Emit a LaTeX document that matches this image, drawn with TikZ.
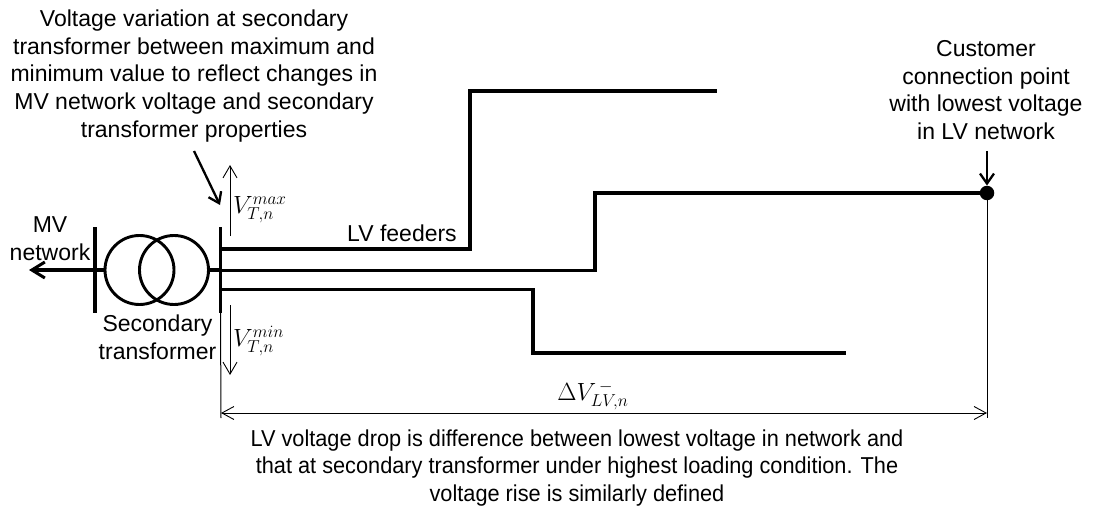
\documentclass[tikz,border=0pt]{standalone}
\usepackage{fontspec}
\setmainfont{Liberation Sans}
\newfontfamily\condensedfont[FakeStretch=0.945]{Liberation Sans}
\usetikzlibrary{arrows.meta}
\tikzset{
  x=1pt,y=-1pt,
  txt/.style={inner sep=0pt,align=center,font=\fontsize{23}{27.6}\selectfont},
  txtc/.style={inner sep=0pt,align=center,font=\condensedfont\fontsize{23}{27.6}\selectfont},
  mathlbl/.style={inner sep=0pt,font=\fontsize{23}{27}\selectfont},
  heavy/.style={line width=3.6pt,line join=miter},
  bus/.style={line width=3.8pt},
  stub/.style={line width=3.4pt},
  coil/.style={draw,circle,line width=2.9pt,minimum size=69pt,inner sep=0pt},
  pointer/.style={line width=2.3pt,-{Straight Barb[length=10pt,width=14pt,line width=2.3pt]}},
  mvarrow/.style={line width=3.4pt,-{Straight Barb[length=13pt,width=16pt,line width=3pt]}},
  thinline/.style={line width=1pt},
  dim/.style={line width=1pt,-{Straight Barb[length=12pt,width=14pt,line width=0.9pt]}},
  dimboth/.style={line width=1pt,{Straight Barb[length=12pt,width=13pt,line width=0.9pt]}-{Straight Barb[length=12pt,width=13pt,line width=0.9pt]}}
}
\begin{document}
\begin{tikzpicture}
\useasboundingbox (0,0) rectangle (1093,508);
% named points
\coordinate (busLtop) at (95,227); \coordinate (busLbot) at (95,313);
\coordinate (busRtop) at (220.5,227); \coordinate (busRbot) at (220.5,313);
\coordinate (mvEnd) at (29,270); \coordinate (stubL) at (104,270);
\coordinate (stubR) at (210,270); \coordinate (busRmid) at (220.5,270);
\coordinate (f1a) at (220.5,249); \coordinate (f1b) at (470,249); \coordinate (f1c) at (470,91); \coordinate (f1d) at (717,91);
\coordinate (f2a) at (220.5,270.5); \coordinate (f2b) at (595,270.5); \coordinate (f2c) at (595,193); \coordinate (f2d) at (987,193);
\coordinate (f3a) at (220.5,289.5); \coordinate (f3b) at (533,289.5); \coordinate (f3c) at (533,353); \coordinate (f3d) at (846,353);
\coordinate (thinLend) at (221,418);
\coordinate (thinRend) at (987,418);
\coordinate (dimL) at (221,413); \coordinate (dimR) at (987,413);
\coordinate (maxA) at (230,236); \coordinate (maxB) at (230,165);
\coordinate (minA) at (230,305); \coordinate (minB) at (230,375);
\coordinate (callA) at (194,151); \coordinate (callB) at (220,205);
\coordinate (custA) at (987,151);
% transformer
\node[coil] (c1) at (139.5,270) {};
\node[coil] (c2) at (174,270) {};
% buses
\draw[bus] (busLtop) -- (busLbot);
\draw[bus] (busRtop) -- (busRbot);
% stubs
\draw[mvarrow] (stubL) -- (mvEnd);
\draw[stub] (stubL) -- (c1.west);
\draw[stub] (stubR) -- (busRmid);
% feeders
\draw[heavy] (f1a) -- (f1b) -- (f1c) -- (f1d);
\draw[heavy] (f2a) -- (f2b) -- (f2c) -- (f2d);
\draw[heavy] (f3a) -- (f3b) -- (f3c) -- (f3d);
% customer dot
\node[circle,fill=black,minimum size=14.5pt,inner sep=0pt] (dot) at (987,193) {};
\draw[pointer] (custA) -- (dot.north);
% thin lines
\draw[thinline] (busRbot) -- (thinLend);
\draw[thinline] (dot.south) -- (thinRend);
\draw[dimboth] (dimL) -- (dimR);
\draw[dim] (maxA) -- (maxB);
\draw[dim] (minA) -- (minB);
\draw[pointer] (callA) -- (callB);
% labels
\node[txt] (t1) at (194,76) {Voltage variation at secondary\\transformer between maximum and\\minimum value to reflect changes in\\MV network voltage and secondary\\transformer properties};
\node[txt] (t2) at (986,90) {Customer\\connection point\\with lowest voltage\\in LV network};
\node[txt] (t3) at (50,239) {MV\\network};
\node[txt] (t4) at (157.5,337.5) {Secondary\\transformer};
\node[txt] (t5) at (402,233) {LV feeders};
\node[txtc] (t6) at (577,468) {LV voltage drop is difference between lowest voltage in network and\\that at secondary transformer under highest loading condition. The\\voltage rise is similarly defined};
\node[mathlbl,anchor=west] (v1) at (233,210) {$V_{T,n}^{max}$};
\node[mathlbl,anchor=west] (v2) at (233,341) {$V_{T,n}^{min}$};
\node[mathlbl] (v3) at (593,396) {$\Delta V_{LV,n}^{\,-}$};
\end{tikzpicture}
\end{document}
